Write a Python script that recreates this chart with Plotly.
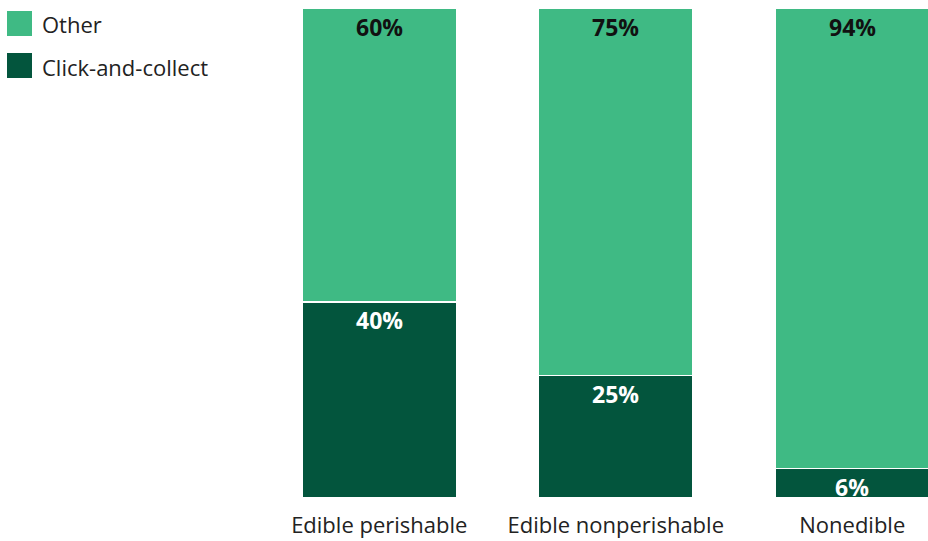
import plotly.graph_objects as go

categories = ["Edible perishable", "Edible nonperishable", "Nonedible"]
click_and_collect = [40, 25, 6]
other = [60, 75, 94]

LIGHT = "#3FBA84"
DARK = "#03553D"
FONT = "Open Sans"

fig = go.Figure()
fig.add_trace(go.Bar(
    x=categories, y=click_and_collect, name="Click-and-collect",
    marker=dict(color=DARK, line=dict(color="white", width=1.5)),
    showlegend=False,
))
fig.add_trace(go.Bar(
    x=categories, y=other, name="Other",
    marker=dict(color=LIGHT, line=dict(color="white", width=1.5)),
    showlegend=False,
))

# Value labels just below the top edge of each segment
for cat, low, high in zip(categories, click_and_collect, other):
    fig.add_annotation(x=cat, y=low, text=f"<b>{low}%</b>", showarrow=False,
                       yanchor="middle", yshift=-18, borderpad=0,
                       font=dict(family=FONT, size=23, color="white"))
    fig.add_annotation(x=cat, y=low + high, text=f"<b>{high}%</b>", showarrow=False,
                       yanchor="middle", yshift=-19, borderpad=0,
                       font=dict(family=FONT, size=23, color="#111111"))

# Legend drawn as swatches + labels to the left of the plot area
W, H = 928, 541
ml, mr, mt, mb = 261, 0, 8, 43
pw, ph = W - ml - mr, H - mt - mb
def px(x):
    return (x - ml) / pw
def py(y):
    return 1 - (y - mt) / ph

legend_items = [("Other", LIGHT, 23.5), ("Click-and-collect", DARK, 65.5)]
for label, color, yc in legend_items:
    fig.add_shape(type="rect", xref="paper", yref="paper",
                  x0=px(7), x1=px(32), y0=py(yc + 12.5), y1=py(yc - 12.5),
                  fillcolor=color, line=dict(width=0))
    fig.add_annotation(text=label, xref="paper", yref="paper",
                       x=px(40), y=py(yc + 1), xanchor="left", yanchor="middle",
                       showarrow=False, font=dict(family=FONT, size=22, color="#222222"))

fig.update_layout(
    barmode="stack", bargap=0.345,
    width=W, height=H,
    margin=dict(l=ml, r=mr, t=mt, b=mb),
    plot_bgcolor="white", paper_bgcolor="white",
    font=dict(family=FONT, size=22, color="#222222"),
)
fig.update_xaxes(range=[-0.5, -0.5 + pw / 236.5], showgrid=False, zeroline=False,
                 showline=False, ticks="", ticklabelstandoff=12,
                 tickfont=dict(family=FONT, size=22, color="#222222"))
fig.update_yaxes(range=[0, 100], visible=False)

fig.write_html("out.html")
